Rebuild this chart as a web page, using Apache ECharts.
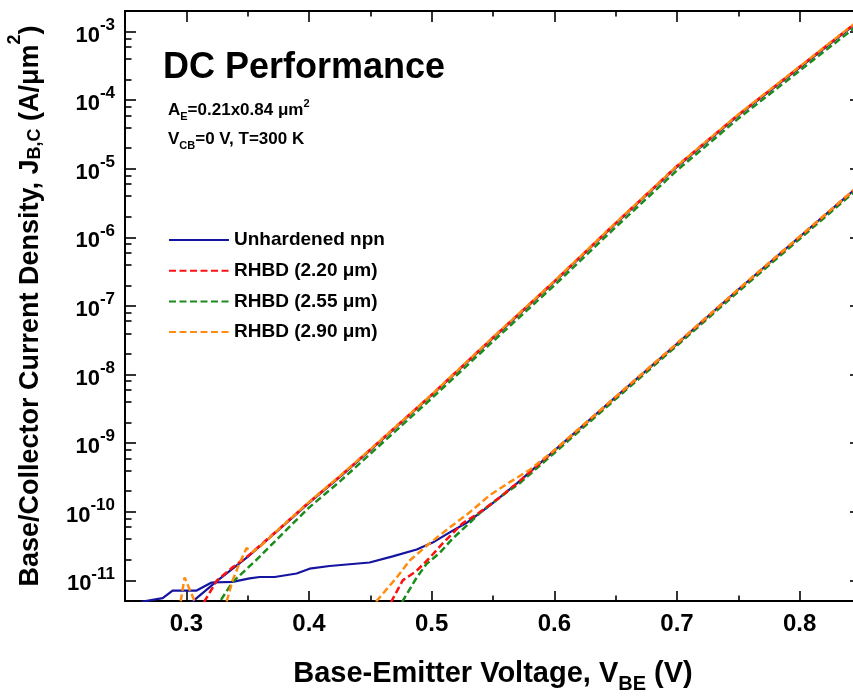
<!DOCTYPE html>
<html><head><meta charset="utf-8">
<script src="https://cdn.jsdelivr.net/npm/echarts@6/dist/echarts.min.js"></script>
<style>html,body{margin:0;padding:0;background:#fff}#c{width:853px;height:698px}</style>
</head><body><div id="c"></div>
<script>
const FONT = '"Liberation Sans", Arial, sans-serif';

// axis ranges and tick positions
const xRange = [0.25, 0.85];
const yRange = [5e-12, 2e-3];
const xMajorTicks = [0.3, 0.4, 0.5, 0.6, 0.7, 0.8];
const xMinorTicks = [0.35, 0.45, 0.55, 0.65, 0.75];
const yDecades = [-11, -10, -9, -8, -7, -6, -5, -4, -3];
const yMinorMultipliers = [2, 4, 6, 8];

const legendNames = ['Unhardened npn', 'RHBD (2.20 μm)', 'RHBD (2.55 μm)', 'RHBD (2.90 μm)'];
const colors = ['#1414a0', '#ff1010', '#1a8c1a', '#ff8c10'];

// [V_BE (V), J (A/um^2)]  collector (upper) curves
const jcUnhardened = [[0.295,3.2e-12],[0.305,4.9e-12],[0.3256,1.0e-11],[0.35,2.2e-11],[0.375,5.4e-11],[0.40,1.35e-10],[0.425,3.2e-10],[0.45,7.9e-10],[0.50,5.0e-9],[0.55,3.4e-8],[0.60,2.24e-7],[0.65,1.58e-6],[0.70,1.07e-5],[0.75,6.0e-5],[0.80,3.0e-4],[0.85,1.5e-3]];
const jcRHBD220 = [[0.30,2.0e-12],[0.315,5.0e-12],[0.325,1.0e-11],[0.3378,1.55e-11],[0.35,2.25e-11],[0.375,5.5e-11],[0.40,1.38e-10],[0.425,3.27e-10],[0.45,8.1e-10],[0.50,5.1e-9],[0.55,3.47e-8],[0.60,2.29e-7],[0.65,1.62e-6],[0.70,1.1e-5],[0.75,6.15e-5],[0.80,3.07e-4],[0.85,1.54e-3]];
const jcRHBD255 = [[0.32,2.8e-12],[0.3273,4.9e-12],[0.3378,9.5e-12],[0.3573,2.0e-11],[0.3818,5.5e-11],[0.40,1.15e-10],[0.425,2.75e-10],[0.45,7.0e-10],[0.50,4.5e-9],[0.55,3.05e-8],[0.60,2.0e-7],[0.65,1.41e-6],[0.70,9.5e-6],[0.75,5.4e-5],[0.80,2.7e-4],[0.85,1.35e-3]];
const jcRHBD290 = [[0.328,2.5e-12],[0.333,5.0e-12],[0.3377,1.0e-11],[0.3435,1.8e-11],[0.3491,2.95e-11],[0.354,2.6e-11],[0.36,3.1e-11],[0.375,5.5e-11],[0.40,1.38e-10],[0.425,3.3e-10],[0.45,8.1e-10],[0.50,5.1e-9],[0.55,3.5e-8],[0.60,2.3e-7],[0.65,1.63e-6],[0.70,1.1e-5],[0.75,6.2e-5],[0.80,3.1e-4],[0.85,1.55e-3]];

// base (lower) curves
const jbUnhardened = [[0.26,4.0e-12],[0.2644,4.9e-12],[0.2807,5.5e-12],[0.2888,7.1e-12],[0.3084,7.1e-12],[0.3206,9.3e-12],[0.3377,9.5e-12],[0.3516,1.07e-11],[0.3598,1.12e-11],[0.372,1.12e-11],[0.3899,1.26e-11],[0.4005,1.48e-11],[0.4168,1.62e-11],[0.4494,1.82e-11],[0.4682,2.24e-11],[0.4878,2.82e-11],[0.5008,3.55e-11],[0.5147,5.0e-11],[0.5285,6.9e-11],[0.5473,1.23e-10],[0.5693,2.57e-10],[0.60,7.8e-10],[0.65,4.7e-9],[0.70,2.8e-8],[0.75,1.74e-7],[0.80,1.02e-6],[0.85,6.0e-6]];
const jbRHBD220 = [[0.46,2.5e-12],[0.4674,5.0e-12],[0.4764,1.0e-11],[0.4878,1.38e-11],[0.4984,2.14e-11],[0.509,3.47e-11],[0.5253,6.8e-11],[0.5391,9.8e-11],[0.5554,1.62e-10],[0.5717,2.8e-10],[0.60,7.8e-10],[0.65,4.7e-9],[0.70,2.82e-8],[0.75,1.74e-7],[0.80,1.02e-6],[0.85,6.0e-6]];
const jbRHBD255 = [[0.47,2.5e-12],[0.4764,5.0e-12],[0.4878,1.1e-11],[0.4959,1.74e-11],[0.5065,2.51e-11],[0.5171,4.07e-11],[0.531,6.9e-11],[0.5416,1.05e-10],[0.5579,1.74e-10],[0.5717,2.6e-10],[0.60,7.2e-10],[0.65,4.4e-9],[0.70,2.65e-8],[0.75,1.62e-7],[0.80,9.5e-7],[0.85,5.6e-6]];
const jbRHBD290 = [[0.294,3.5e-12],[0.2986,1.1e-11],[0.302,7.9e-12],[0.309,4.0e-12],[0.38,null],[0.45,2.5e-12],[0.4551,5.0e-12],[0.4715,1.1e-11],[0.4821,1.95e-11],[0.4984,3.47e-11],[0.5147,5.9e-11],[0.531,9.8e-11],[0.5473,1.74e-10],[0.5636,2.7e-10],[0.58,4.1e-10],[0.60,7.9e-10],[0.65,4.75e-9],[0.70,2.85e-8],[0.75,1.76e-7],[0.80,1.03e-6],[0.85,6.05e-6]];

const lg = Math.log10;
const toLog = arr => arr.map(([v, j]) => j === null ? [v, '-'] : [v, lg(j)]);
const yMin = lg(yRange[0]), yMax = lg(yRange[1]);
const yMinor = [];
yDecades.forEach(n => yMinorMultipliers.forEach(k => { const t = n + lg(k); if (t < yMax - 1e-6) yMinor.push(t); }));

const dash = [7, 3.5];
function mk(name, data, idx, z) {
  return {
    name, type: 'line', data: toLog(data), symbol: 'none', showSymbol: false, smooth: false, z,
    lineStyle: { color: colors[idx], width: idx === 0 ? 2.2 : 2.5, type: idx === 0 ? 'solid' : dash },
    itemStyle: { color: colors[idx] }, connectNulls: false, clip: true
  };
}

const axisLineStyle = { show: true, lineStyle: { color: '#000', width: 2 } };
function xAx(pos, ticks, len, labels) {
  return {
    type: 'value', position: pos, min: xRange[0], max: xRange[1], gridIndex: 0,
    axisLine: axisLineStyle, splitLine: { show: false },
    axisTick: { show: true, inside: true, length: len, customValues: ticks, lineStyle: { color: '#000', width: 1.6 } },
    axisLabel: labels ? { show: true, customValues: ticks, margin: 11, color: '#000', fontFamily: FONT, fontWeight: 'bold', fontSize: 24, formatter: v => v.toFixed(1) } : { show: false }
  };
}
const bold = (size, lh, va) => ({ fontSize: size, lineHeight: lh, fontFamily: FONT, fontWeight: 'bold', color: '#000', verticalAlign: va });
function yAx(pos, ticks, len, labels) {
  return {
    type: 'value', position: pos, min: yMin, max: yMax, gridIndex: 0,
    axisLine: axisLineStyle, splitLine: { show: false },
    axisTick: { show: true, inside: true, length: len, customValues: ticks, lineStyle: { color: '#000', width: 1.6 } },
    axisLabel: labels ? {
      show: true, customValues: ticks, margin: 10, color: '#000', fontFamily: FONT, fontWeight: 'bold',
      formatter: v => '{b|10}{s|' + Math.round(v) + '}',
      rich: { b: bold(22, 30, 'bottom'), s: bold(17, 17, 'top') }
    } : { show: false }
  };
}

const xAxes = [xAx('bottom', xMajorTicks, 10, true), xAx('bottom', xMinorTicks, 5.5, false), xAx('top', xMajorTicks, 11, false), xAx('top', xMinorTicks, 5.5, false)];
xAxes[0].name = '{m|Base-Emitter Voltage, V}{sub|BE}{m| (V)}';
xAxes[0].nameLocation = 'middle';
xAxes[0].nameGap = 58;
xAxes[0].nameTextStyle = {
  fontFamily: FONT, fontWeight: 'bold', fontSize: 29, color: '#000',
  rich: { m: bold(29, 35, 'top'), sub: bold(20, 20, 'bottom') }
};

const yAxes = [yAx('left', yDecades, 11, true), yAx('left', yMinor, 6.5, false), yAx('right', yDecades, 11, false), yAx('right', yMinor, 6.5, false)];
yAxes[0].name = '{m|Base/Collector Current Density, J}{sub|B,C}{m| (A/μm}{sup|2}{m|)}';
yAxes[0].nameLocation = 'middle';
yAxes[0].nameGap = 81;
yAxes[0].nameTextStyle = {
  fontFamily: FONT, fontWeight: 'bold', fontSize: 27, color: '#000',
  rich: { m: bold(27, 38, 'bottom'), sub: bold(18, 18, 'bottom'), sup: bold(18, 18, 'top') }
};

const annFont = (size, lh, va) => ({ fontSize: size, lineHeight: lh, fontFamily: FONT, fontWeight: 'bold', fill: '#000', verticalAlign: va });
const annRich = { m: annFont(17, 24, 'middle'), sub: annFont(11, 11, 'bottom'), sup: annFont(11, 11, 'top') };

const option = {
  animation: false,
  backgroundColor: '#fff',
  grid: { left: 125, top: 11, width: 736, height: 590, outerBoundsMode: 'none', containLabel: false },
  xAxis: xAxes,
  yAxis: yAxes,
  legend: {
    data: legendNames, orient: 'vertical', left: 168, top: 230, padding: 0,
    itemWidth: 60, itemHeight: 14, itemGap: 10.7,
    itemStyle: { opacity: 0 },
    textStyle: { fontFamily: FONT, fontWeight: 'bold', fontSize: 19, color: '#000', lineHeight: 20 }
  },
  graphic: [
    { type: 'text', left: 163, top: 50, style: { text: 'DC Performance', font: 'bold 36px ' + FONT, fill: '#000' } },
    { type: 'text', left: 168, top: 98, style: { text: '{m|A}{sub|E}{m|=0.21x0.84 μm}{sup|2}', rich: annRich, fill: '#000' } },
    { type: 'text', left: 168, top: 131, style: { text: '{m|V}{sub|CB}{m|=0 V, T=300 K}', rich: annRich, fill: '#000' } }
  ],
  series: [
    mk(legendNames[0], jcUnhardened, 0, 2), mk(legendNames[0], jbUnhardened, 0, 2),
    mk(legendNames[2], jcRHBD255, 2, 3), mk(legendNames[2], jbRHBD255, 2, 3),
    mk(legendNames[1], jcRHBD220, 1, 4), mk(legendNames[1], jbRHBD220, 1, 4),
    mk(legendNames[3], jcRHBD290, 3, 5), mk(legendNames[3], jbRHBD290, 3, 5)
  ]
};
const chart = echarts.init(document.getElementById('c'), null, { renderer: 'canvas' });
chart.setOption(option);
</script></body></html>
